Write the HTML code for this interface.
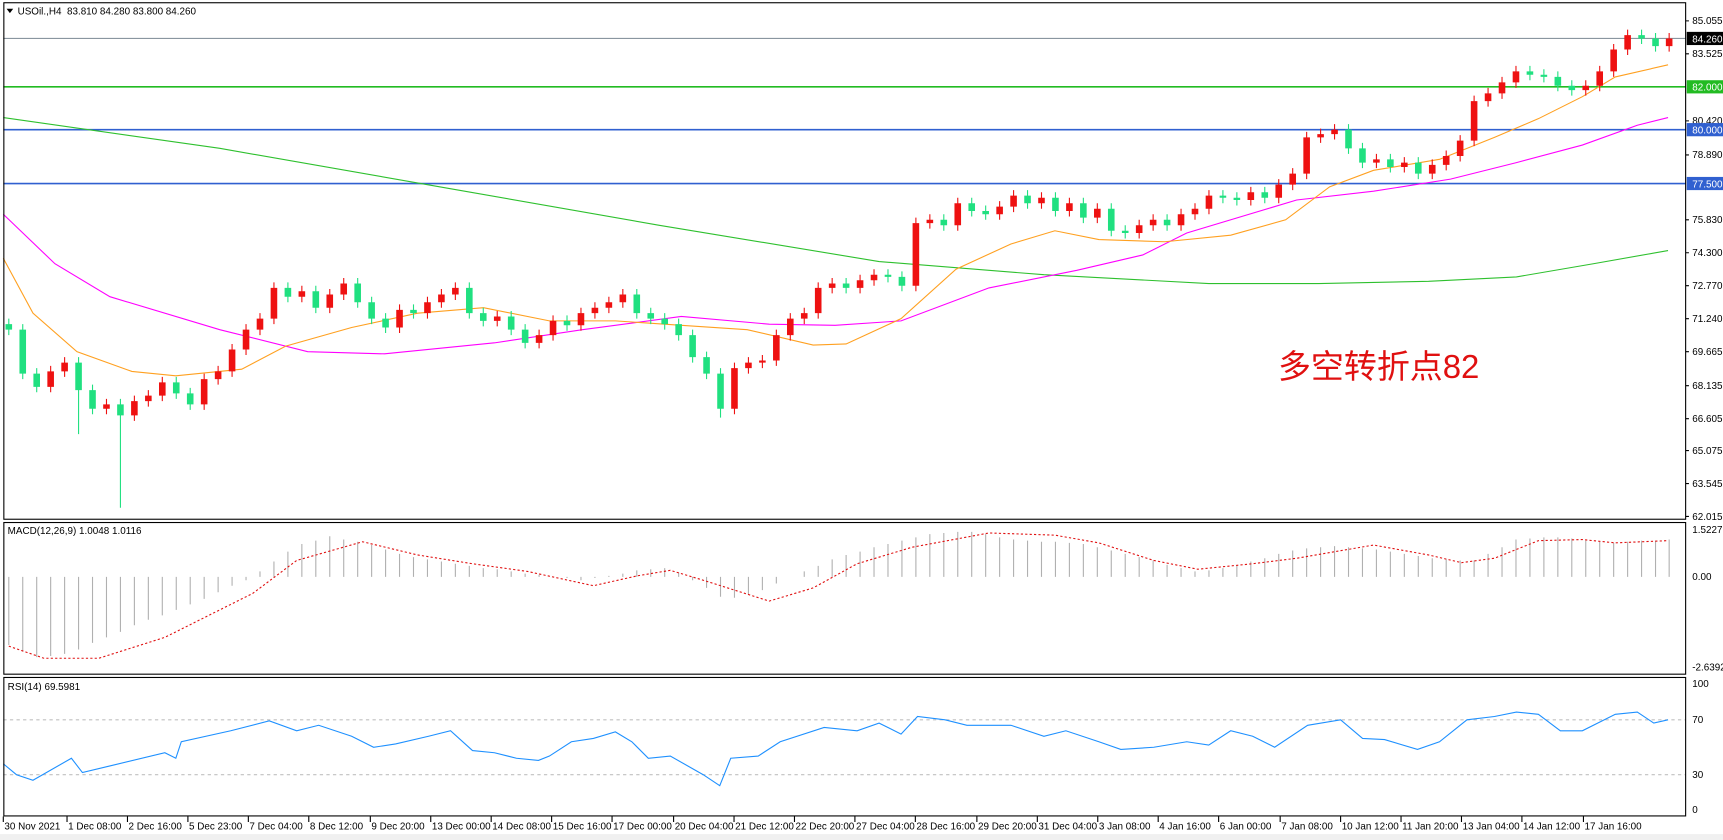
<!DOCTYPE html>
<html><head><meta charset="utf-8"><style>
html,body{margin:0;padding:0;background:#fff;overflow:hidden}
svg{display:block}
text{font-family:"Liberation Sans","Noto Sans CJK SC",sans-serif;font-size:9px;fill:#000}
</style></head><body>
<svg width="1723" height="840" viewBox="0 0 1568 764.4" preserveAspectRatio="none" xmlns="http://www.w3.org/2000/svg">
<rect x="0" y="0" width="1568" height="765" fill="#fff"/>
<line x1="3" y1="35" x2="1534" y2="35" stroke="#8a96a0"/>
<line x1="3" y1="79" x2="1534" y2="79" stroke="#22bb22" stroke-width="1.5"/>
<line x1="3" y1="118" x2="1534" y2="118" stroke="#3060d0" stroke-width="1.5"/>
<line x1="3" y1="167" x2="1534" y2="167" stroke="#3060d0" stroke-width="1.5"/>
<polyline fill="none" stroke="#2ec02e" points="3,107 200,135 400,170 600,205 800,238 950,250 1100,258 1200,258 1300,256 1380,252 1450,240 1518,228"/>
<polyline fill="none" stroke="#ff00ff" points="3,195 50,240 100,270 200,300 280,320 350,322 450,312 530,300 620,288 700,295 760,296 820,292 900,262 980,246 1040,232 1080,212 1180,182 1250,174 1320,163 1380,148 1440,132 1490,114 1518,107"/>
<polyline fill="none" stroke="#ffa020" points="3,235 30,285 70,320 120,338 160,342 220,336 260,315 320,298 380,285 440,280 500,292 560,292 620,296 680,300 740,314 770,313 820,290 870,245 920,222 960,210 1000,218 1060,220 1120,214 1170,200 1210,170 1250,155 1310,145 1360,125 1400,108 1440,88 1470,70 1518,59"/>
<!-- green (down) candles -->
<path stroke="#20e080" stroke-width="1" fill="none" d="M8 290V305M20.7 295V345M33.4 335V357M71.5 325V395M84.2 350V377M109.6 363V462M160.4 343V363M173.1 353V373M262 257V275M287.4 260V285M325.5 253V280M338.2 270V295M350.9 285V303M376.3 277V290M427.1 257V290M439.8 280V297M465.2 283V305M477.9 295V317M516 287V301M579.5 263V290M592.2 280V295M604.9 285V300M617.6 290V310M630.3 300V330M643 320V345M655.7 335V380M770 253V267M808.1 245V257M820.8 247V265M858.9 195V210M884.3 180V197M897 187V200M935.1 173V190M960.5 175V197M985.9 180V203M1011.3 185V215M1024 205V217M1062.1 195V210M1112.9 173V185M1125.6 175V187M1151 170V185M1227.2 113V140M1239.9 130V153M1265.3 140V157M1290.7 143V163M1392.3 60V73M1405 63V75M1417.7 65V83M1430.4 73V87M1493.9 27V40M1506.6 30V47"/>
<path stroke="#20e080" stroke-width="6" fill="none" d="M8 295V300M20.7 300V340M33.4 340V352M71.5 330V355M84.2 355V372M109.6 368V378M160.4 348V358M173.1 358V368M262 262V270M287.4 265V280M325.5 258V275M338.2 275V290M350.9 290V298M376.3 282V285M427.1 262V285M439.8 285V292M465.2 288V300M477.9 300V312M516 292V296M579.5 268V285M592.2 285V290M604.9 290V295M617.6 295V305M630.3 305V325M643 325V340M655.7 340V372M770 258V262M808.1 250V252M820.8 252V260M858.9 200V205M884.3 185V192M897 192V195M935.1 178V185M960.5 180V192M985.9 185V198M1011.3 190V210M1024 210V212M1062.1 200V205M1112.9 178V180M1125.6 180V182M1151 175V180M1227.2 118V135M1239.9 135V148M1265.3 145V152M1290.7 148V158M1392.3 65V68M1405 68V70M1417.7 70V78M1430.4 78V82M1493.9 32V35M1506.6 35V42"/>
<!-- red (up) candles -->
<path stroke="#ee1111" stroke-width="1" fill="none" d="M46.1 333V357M58.8 325V343M96.9 363V377M122.3 360V383M135 355V370M147.7 343V365M185.8 340V373M198.5 333V350M211.2 313V343M223.9 295V323M236.6 285V305M249.3 257V295M274.7 260V275M300.1 263V285M312.8 253V273M363.6 277V303M389 270V290M401.7 263V280M414.4 257V273M452.5 283V297M490.6 300V317M503.3 287V310M528.7 280V301M541.4 275V290M554.1 270V285M566.8 263V280M668.4 330V377M681.1 325V340M693.8 323V335M706.5 300V333M719.2 285V310M731.9 280V295M744.6 257V290M757.3 253V267M782.7 250V267M795.4 245V260M833.5 198V265M846.2 195V208M871.6 180V210M909.7 183V200M922.4 173V193M947.8 175V190M973.2 180V197M998.6 185V203M1036.7 200V217M1049.4 195V210M1074.8 190V210M1087.5 185V200M1100.2 173V195M1138.3 170V187M1163.7 163V185M1176.4 153V173M1189.1 120V163M1201.8 117V130M1214.5 113V127M1252.6 140V153M1278 143V157M1303.4 145V163M1316.1 137V155M1328.8 123V147M1341.5 87V133M1354.2 80V97M1366.9 70V90M1379.6 60V80M1443.1 73V87M1455.8 60V83M1468.5 40V70M1481.2 27V50M1519 30V47"/>
<path stroke="#ee1111" stroke-width="6" fill="none" d="M46.1 338V352M58.8 330V338M96.9 368V372M122.3 365V378M135 360V365M147.7 348V360M185.8 345V368M198.5 338V345M211.2 318V338M223.9 300V318M236.6 290V300M249.3 262V290M274.7 265V270M300.1 268V280M312.8 258V268M363.6 282V298M389 275V285M401.7 268V275M414.4 262V268M452.5 288V292M490.6 305V312M503.3 292V305M528.7 285V296M541.4 280V285M554.1 275V280M566.8 268V275M668.4 335V372M681.1 330V335M693.8 328V330M706.5 305V328M719.2 290V305M731.9 285V290M744.6 262V285M757.3 258V262M782.7 255V262M795.4 250V255M833.5 203V260M846.2 200V203M871.6 185V205M909.7 188V195M922.4 178V188M947.8 180V185M973.2 185V192M998.6 190V198M1036.7 205V212M1049.4 200V205M1074.8 195V205M1087.5 190V195M1100.2 178V190M1138.3 175V182M1163.7 168V180M1176.4 158V168M1189.1 125V158M1201.8 122V125M1214.5 118V122M1252.6 145V148M1278 148V152M1303.4 150V158M1316.1 142V150M1328.8 128V142M1341.5 92V128M1354.2 85V92M1366.9 75V85M1379.6 65V75M1443.1 78V82M1455.8 65V78M1468.5 45V65M1481.2 32V45M1519 35V42"/>
<!-- MACD histogram -->
<path stroke="#b0b0b0" stroke-width="1" fill="none" d="M8 525V587M20.7 525V593M33.4 525V598M46.1 525V597M58.8 525V595M71.5 525V591M84.2 525V585M96.9 525V580M109.6 525V575M122.3 525V569M135 525V564M147.7 525V560M160.4 525V555M173.1 525V550M185.8 525V545M198.5 525V539M211.2 525V533M223.9 525V528M236.6 525V520M249.3 525V511M262 525V502M274.7 525V495M287.4 525V492M300.1 525V488M312.8 525V491M325.5 525V493M338.2 525V496M350.9 525V500M363.6 525V504M376.3 525V507M389 525V509M401.7 525V511M414.4 525V513M427.1 525V515M439.8 525V517M452.5 525V518M465.2 525V520M477.9 525V522M490.6 525V523M516 525V526M528.7 525V528M541.4 525V526M554.1 525V524M566.8 525V522M579.5 525V519M592.2 525V518M604.9 525V517M617.6 525V521M630.3 525V528M643 525V535M655.7 525V543M668.4 525V544M681.1 525V541M693.8 525V537M706.5 525V531M731.9 525V520M744.6 525V515M757.3 525V509M770 525V505M782.7 525V502M795.4 525V498M808.1 525V495M820.8 525V492M833.5 525V489M846.2 525V486M858.9 525V485M871.6 525V484M884.3 525V484M897 525V486M909.7 525V489M922.4 525V491M935.1 525V492M947.8 525V493M960.5 525V493M973.2 525V494M985.9 525V495M998.6 525V498M1011.3 525V501M1024 525V504M1036.7 525V507M1049.4 525V510M1062.1 525V514M1074.8 525V517M1087.5 525V520M1100.2 525V519M1112.9 525V517M1125.6 525V515M1138.3 525V511M1151 525V508M1163.7 525V504M1176.4 525V501M1189.1 525V499M1201.8 525V498M1214.5 525V497M1227.2 525V498M1239.9 525V499M1252.6 525V500M1265.3 525V502M1278 525V504M1290.7 525V506M1303.4 525V508M1316.1 525V509M1328.8 525V510M1341.5 525V510M1354.2 525V504M1366.9 525V498M1379.6 525V491M1392.3 525V490M1405 525V489M1417.7 525V489M1430.4 525V490M1443.1 525V492M1455.8 525V493M1468.5 525V494M1481.2 525V493M1493.9 525V492M1506.6 525V492M1519 525V491"/>
<polyline fill="none" stroke="#e01010" stroke-dasharray="2,2" points="8,588 40,599 90,599 150,580 230,540 270,510 330,493 380,505 430,513 480,520 540,533 580,524 610,519 640,528 700,547 740,535 780,513 830,498 900,485 960,487 1000,494 1050,510 1090,518 1140,513 1180,508 1250,496 1300,505 1330,512 1360,508 1400,492 1440,491 1470,494 1518,492"/>
<!-- RSI -->
<line x1="3" y1="655" x2="1534" y2="655" stroke="#c0c0c0" stroke-dasharray="3,3"/>
<line x1="3" y1="705" x2="1534" y2="705" stroke="#c0c0c0" stroke-dasharray="3,3"/>
<polyline fill="none" stroke="#1e90ff" points="3,695 15,705 30,710 65,690 75,703 100,697 150,685 160,690 165,675 210,665 245,656 270,665 290,660 320,670 340,680 360,677 390,670 410,665 430,683 450,685 470,690 490,692 500,688 520,675 540,672 560,666 575,675 590,690 610,688 640,705 655,715 665,690 690,688 710,675 750,662 780,665 800,658 820,668 835,652 860,655 880,660 920,660 950,670 970,665 1000,675 1020,682 1050,680 1080,675 1100,678 1120,665 1140,670 1160,680 1190,660 1220,655 1240,672 1260,673 1290,682 1310,675 1335,655 1360,652 1380,648 1400,650 1420,665 1440,665 1470,650 1490,648 1505,658 1518,655"/>
<!-- borders -->
<rect x="3.5" y="2.5" width="1530.5" height="470" fill="none" stroke="#000"/>
<rect x="3.5" y="475.5" width="1530.5" height="138" fill="none" stroke="#000"/>
<rect x="3.5" y="616.5" width="1530.5" height="126" fill="none" stroke="#000"/>
<path d="M6,8 L12,8 L9,12 Z" fill="#000"/>
<text x="16" y="13">USOil.,H4&#160;&#160;83.810 84.280 83.800 84.260</text>
<text x="7" y="486">MACD(12,26,9) 1.0048 1.0116</text>
<text x="7" y="628">RSI(14) 69.5981</text>
<!-- price axis -->
<path stroke="#000" d="M1534 19h3M1534 49h3M1534 110h3M1534 141h3M1534 200h3M1534 230h3M1534 260h3M1534 290h3M1534 320h3M1534 351h3M1534 381h3M1534 410h3M1534 440h3M1534 470h3"/>
<text x="1540" y="22">85.055</text>
<text x="1540" y="52">83.525</text>
<text x="1540" y="113">80.420</text>
<text x="1540" y="144">78.890</text>
<text x="1540" y="203">75.830</text>
<text x="1540" y="233">74.300</text>
<text x="1540" y="263">72.770</text>
<text x="1540" y="293">71.240</text>
<text x="1540" y="323">69.665</text>
<text x="1540" y="354">68.135</text>
<text x="1540" y="384">66.605</text>
<text x="1540" y="413">65.075</text>
<text x="1540" y="443">63.545</text>
<text x="1540" y="473">62.015</text>
<rect x="1535" y="29" width="33" height="12" fill="#000"/><text x="1540" y="38.5" style="fill:#fff">84.260</text>
<rect x="1535" y="73" width="33" height="12" fill="#22bb22"/><text x="1540" y="82.5" style="fill:#fff">82.000</text>
<rect x="1535" y="112" width="33" height="12" fill="#3060d0"/><text x="1540" y="121.5" style="fill:#fff">80.000</text>
<rect x="1535" y="161" width="33" height="12" fill="#3060d0"/><text x="1540" y="170.5" style="fill:#fff">77.500</text>
<text x="1540" y="485">1.5227</text>
<text x="1540" y="528">0.00</text>
<text x="1540" y="610">-2.6392</text>
<text x="1540" y="625">100</text>
<text x="1540" y="658">70</text>
<text x="1540" y="708">30</text>
<text x="1540" y="740">0</text>
<!-- time axis -->
<path stroke="#000" d="M3 743v5M61 743v5M116 743v5M171 743v5M226 743v5M281 743v5M337 743v5M392 743v5M447 743v5M502 743v5M557 743v5M613 743v5M668 743v5M723 743v5M778 743v5M833 743v5M889 743v5M944 743v5M999 743v5M1054 743v5M1109 743v5M1165 743v5M1220 743v5M1275 743v5M1330 743v5M1385 743v5M1441 743v5"/>
<text x="4" y="755">30 Nov 2021</text>
<text x="62" y="755">1 Dec 08:00</text>
<text x="117" y="755">2 Dec 16:00</text>
<text x="172" y="755">5 Dec 23:00</text>
<text x="227" y="755">7 Dec 04:00</text>
<text x="282" y="755">8 Dec 12:00</text>
<text x="338" y="755">9 Dec 20:00</text>
<text x="393" y="755">13 Dec 00:00</text>
<text x="448" y="755">14 Dec 08:00</text>
<text x="503" y="755">15 Dec 16:00</text>
<text x="558" y="755">17 Dec 00:00</text>
<text x="614" y="755">20 Dec 04:00</text>
<text x="669" y="755">21 Dec 12:00</text>
<text x="724" y="755">22 Dec 20:00</text>
<text x="779" y="755">27 Dec 04:00</text>
<text x="834" y="755">28 Dec 16:00</text>
<text x="890" y="755">29 Dec 20:00</text>
<text x="945" y="755">31 Dec 04:00</text>
<text x="1000" y="755">3 Jan 08:00</text>
<text x="1055" y="755">4 Jan 16:00</text>
<text x="1110" y="755">6 Jan 00:00</text>
<text x="1166" y="755">7 Jan 08:00</text>
<text x="1221" y="755">10 Jan 12:00</text>
<text x="1276" y="755">11 Jan 20:00</text>
<text x="1331" y="755">13 Jan 04:00</text>
<text x="1386" y="755">14 Jan 12:00</text>
<text x="1442" y="755">17 Jan 16:00</text>
<rect x="0" y="759" width="1568" height="6" fill="#f0f0f0"/>
<text x="1163" y="344" style="font-size:30px;fill:#e01010">多空转折点82</text>
</svg>
</body></html>
